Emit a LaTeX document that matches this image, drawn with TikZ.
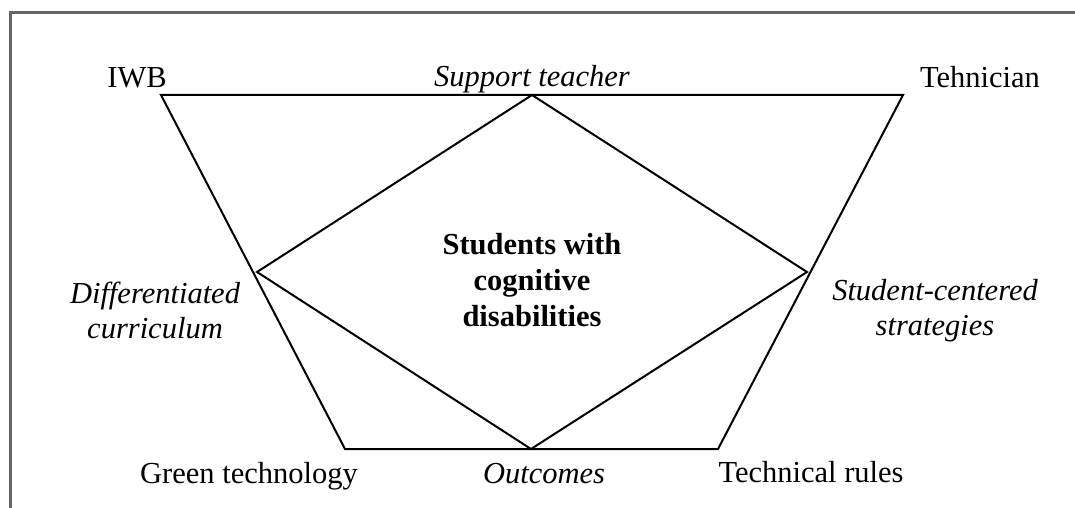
\documentclass[tikz,border=0pt]{standalone}
\usepackage{fontspec}
\setmainfont{Liberation Serif}
\begin{document}
\begin{tikzpicture}[x=1pt,y=-1pt,
  edge/.style={line width=2pt, line join=miter},
  frameline/.style={line width=3pt, draw=black!60},
  lbl/.style={font=\fontsize{30.5}{35}\selectfont, inner sep=0pt, anchor=base, align=center},
  ilbl/.style={lbl, font=\fontsize{30.5}{35}\selectfont\itshape},
  blbl/.style={lbl, font=\fontsize{30.5}{36}\selectfont\bfseries}]
\useasboundingbox (0,0) rectangle (1075,508);

% outer frame (open to the right and bottom)
\draw[frameline] (10,520) -- (10,13) -- (1090,13);

% trapezoid corners
\coordinate (tl) at (161,95);
\coordinate (tr) at (903,95);
\coordinate (br) at (718,449);
\coordinate (bl) at (345,449);

% diamond corners
\coordinate (dt) at (532,95);
\coordinate (dr) at (807,272);
\coordinate (db) at (531,449);
\coordinate (dl) at (257,272);

\draw[edge] (tl) -- (tr) -- (br) -- (bl) -- cycle;
\draw[edge] (dt) -- (dr) -- (db) -- (dl) -- cycle;

% labels
\node[lbl]  (iwb)   at (137,88)  {IWB};
\node[ilbl] (supp)  at (532,87)  {Support teacher};
\node[lbl]  (tech)  at (980,88)  {Tehnician};
\node[ilbl] (diff)  at (155,338) {Differentiated\\curriculum};
\node[ilbl] (stud)  at (935,335) {Student-centered\\strategies};
\node[blbl] (core)  at (532,326) {Students with\\cognitive\\disabilities};
\node[lbl]  (green) at (249,483) {Green technology};
\node[ilbl] (out)   at (544,483) {Outcomes};
\node[lbl]  (rules) at (811,482) {Technical rules};
\end{tikzpicture}
\end{document}
